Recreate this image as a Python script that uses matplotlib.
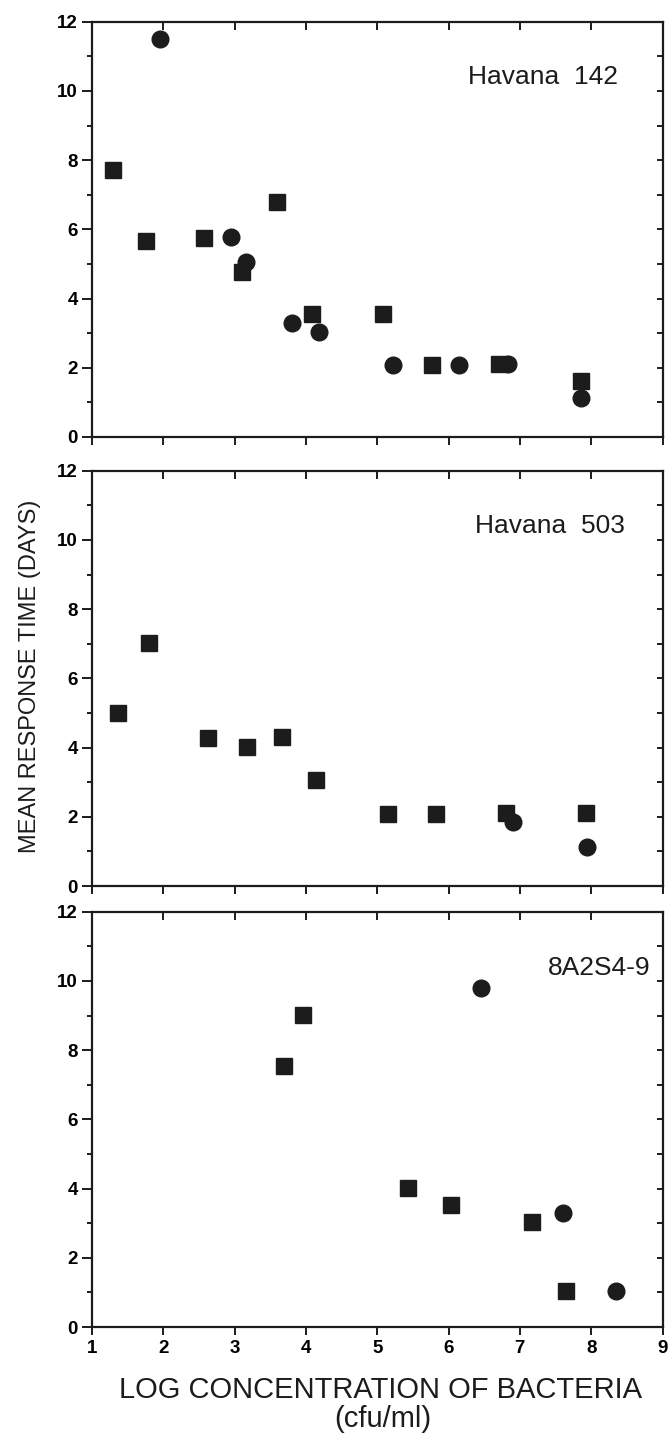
import numpy as np
import matplotlib.pyplot as plt

# Data (x = log cfu/ml, y = mean response time, days)
labels = ['Havana  142', 'Havana  503', '8A2S4-9']

h142_sq_x = [1.30, 1.76, 2.57, 3.11, 3.59, 4.08, 5.08, 5.77, 6.71, 7.86]
h142_sq_y = [7.72, 5.67, 5.75, 4.76, 6.78, 3.56, 3.56, 2.07, 2.10, 1.63]
h142_ci_x = [1.96, 2.95, 3.16, 3.81, 4.19, 5.22, 6.14, 6.83, 7.86]
h142_ci_y = [11.49, 5.77, 5.05, 3.29, 3.04, 2.07, 2.09, 2.10, 1.13]

h503_sq_x = [1.37, 1.80, 2.63, 3.17, 3.66, 4.14, 5.15, 5.83, 6.81, 7.93]
h503_sq_y = [5.01, 7.02, 4.27, 4.03, 4.30, 3.06, 2.08, 2.08, 2.10, 2.12]
h503_ci_x = [6.90, 7.94]
h503_ci_y = [1.86, 1.13]

a8_sq_x = [3.69, 3.96, 5.43, 6.04, 7.17, 7.65]
a8_sq_y = [7.53, 9.02, 4.01, 3.53, 3.03, 1.05]
a8_ci_x = [6.46, 7.60, 8.34]
a8_ci_y = [9.81, 3.30, 1.05]

x_ticks = [1, 2, 3, 4, 5, 6, 7, 8, 9]
y_ticks = [0, 2, 4, 6, 8, 10, 12]

panels = [
    (h142_sq_x, h142_sq_y, h142_ci_x, h142_ci_y),
    (h503_sq_x, h503_sq_y, h503_ci_x, h503_ci_y),
    (a8_sq_x, a8_sq_y, a8_ci_x, a8_ci_y),
]
label_pos = [(0.922, 0.868), (0.933, 0.866), (0.978, 0.864)]

ink = '#1c1c1c'
plt.rcParams['font.family'] = ['Liberation Sans', 'DejaVu Sans']

fig = plt.figure(figsize=(6.7, 14.37), dpi=100)
bottoms = [0.6959, 0.3834, 0.0765]
left, width, height = 0.137, 0.852, 0.289

for i, (sx, sy, cx, cy) in enumerate(panels):
    ax = fig.add_axes([left, bottoms[i], width, height])
    ax.plot(sx, sy, 's', color=ink, ms=11.5, mec=ink)
    ax.plot(cx, cy, 'o', color=ink, ms=12, mec=ink)
    ax.set_xlim(1, 9)
    ax.set_ylim(0, 12)
    for s in ax.spines.values():
        s.set_linewidth(1.6)
        s.set_color(ink)

    # left axis: major every 2, minor at odd values, both outward
    ax.set_yticks(y_ticks)
    ax.set_yticks(np.arange(1, 12, 2), minor=True)
    ax.tick_params(axis='y', which='major', direction='out', length=7,
                   width=1.4, color=ink, pad=3, labelsize=13.5)
    ax.tick_params(axis='y', which='minor', direction='out', length=3.5,
                   width=1.4, color=ink)
    for t in ax.get_yticklabels():
        t.set_fontweight('bold')

    # bottom x ticks outward
    ax.set_xticks(x_ticks)
    ax.tick_params(axis='x', which='major', direction='out', length=6,
                   width=1.4, color=ink, pad=3, labelsize=13.5)
    if i < 2:
        ax.tick_params(axis='x', labelbottom=False)
    else:
        for t in ax.get_xticklabels():
            t.set_fontweight('bold')

    # inward ticks on the top and right spines
    top = ax.secondary_xaxis('top')
    top.set_xticks(x_ticks[1:-1])
    top.tick_params(direction='in', length=6, width=1.4, color=ink,
                    labeltop=False)
    top.spines['top'].set_visible(False)
    right = ax.secondary_yaxis('right')
    right.set_yticks(np.arange(1, 12))
    right.tick_params(direction='in', length=4.5, width=1.4, color=ink,
                      labelright=False)
    right.spines['right'].set_visible(False)

    ax.text(label_pos[i][0], label_pos[i][1], labels[i], transform=ax.transAxes,
            ha='right', va='center', fontsize=19, color=ink)

fig.text(0.045, 0.5295, 'MEAN RESPONSE TIME (DAYS)', rotation=90,
         ha='center', va='center', fontsize=17, color=ink)
fig.text(0.568, 1 - 1390 / 1437, 'LOG CONCENTRATION OF BACTERIA',
         ha='center', va='center', fontsize=21, color=ink)
fig.text(0.572, 1 - 1419 / 1437, '(cfu/ml)',
         ha='center', va='center', fontsize=21, color=ink)

fig.savefig('out.png', dpi=100, facecolor='white')
